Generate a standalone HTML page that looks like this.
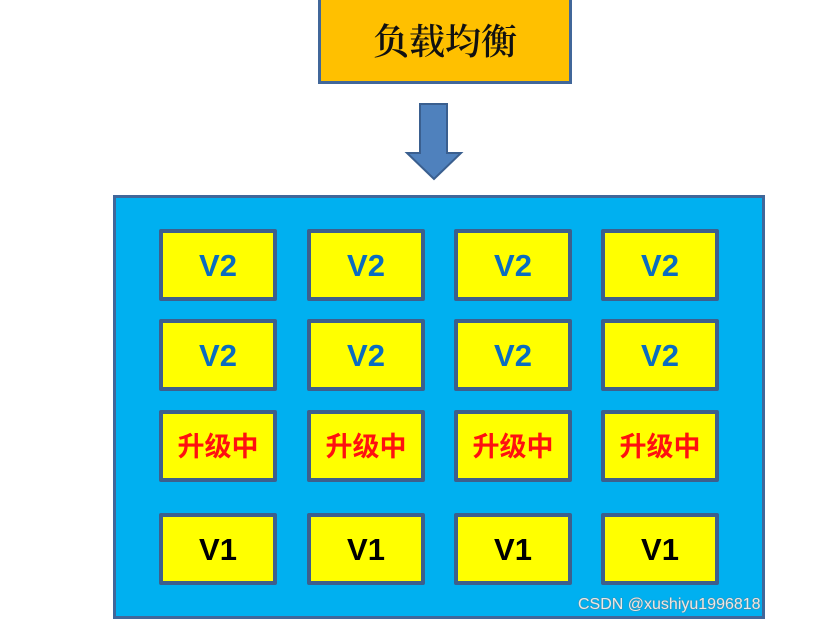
<!DOCTYPE html>
<html><head><meta charset="utf-8"><style>
html,body{margin:0;padding:0;background:#fff;width:815px;height:628px;overflow:hidden;position:relative}
.a{position:absolute;box-sizing:border-box}
.top{left:318px;top:-4px;width:254px;height:88px;background:#ffc000;border:3px solid #41679a;font-family:"Liberation Serif","Noto Serif CJK SC",serif;font-size:36px;color:#111;text-align:center;line-height:82px;padding-top:2px;font-weight:600}
.big{left:113px;top:195px;width:652px;height:424px;background:#00b0f0;border:3px solid #41679a}
.c{width:118px;height:72px;background:#ffff00;border:4px solid #3d5f8c;border-radius:2px;text-align:center;line-height:66px;font-family:"Liberation Sans","Noto Sans CJK SC",sans-serif;font-weight:bold;font-size:31px}
.b{color:#0a6cc0}.r{color:#ff1010;font-weight:bold;font-size:27px;font-family:"Liberation Sans","Noto Sans CJK SC",sans-serif}.k{color:#000}
.wm{left:578px;top:596px;font-family:"Liberation Sans",sans-serif;font-size:16px;color:#e8e8e8;text-shadow:0 0 1px #777,0 0 1px #777}
</style></head><body>
<div class="a top">负载均衡</div>
<svg class="a" style="left:0;top:0" width="815" height="628"><polygon points="420,104 447,104 447,153 461,153 434,179 407,153 420,153" fill="#4f81bd" stroke="#3a5f8f" stroke-width="2"/></svg>
<div class="a big"></div>
<div class="a c b" style="left:159px;top:229px">V2</div>
<div class="a c b" style="left:307px;top:229px">V2</div>
<div class="a c b" style="left:454px;top:229px">V2</div>
<div class="a c b" style="left:601px;top:229px">V2</div>
<div class="a c b" style="left:159px;top:319px">V2</div>
<div class="a c b" style="left:307px;top:319px">V2</div>
<div class="a c b" style="left:454px;top:319px">V2</div>
<div class="a c b" style="left:601px;top:319px">V2</div>
<div class="a c r" style="left:159px;top:410px">升级中</div>
<div class="a c r" style="left:307px;top:410px">升级中</div>
<div class="a c r" style="left:454px;top:410px">升级中</div>
<div class="a c r" style="left:601px;top:410px">升级中</div>
<div class="a c k" style="left:159px;top:513px">V1</div>
<div class="a c k" style="left:307px;top:513px">V1</div>
<div class="a c k" style="left:454px;top:513px">V1</div>
<div class="a c k" style="left:601px;top:513px">V1</div>
<div class="a wm">CSDN @xushiyu1996818</div>
</body></html>
